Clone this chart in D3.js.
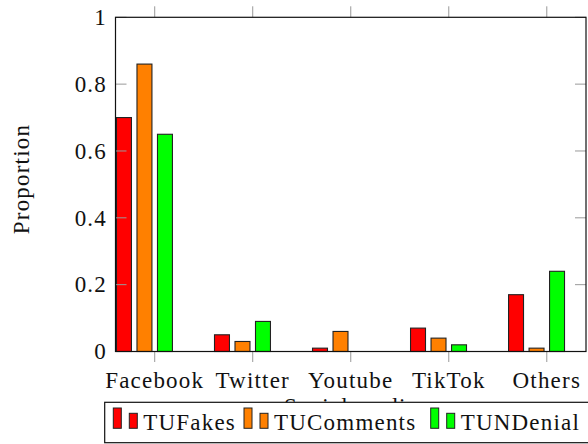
<!DOCTYPE html>
<html><head><meta charset="utf-8">
<script src="https://cdn.jsdelivr.net/npm/d3@7"></script>
</head><body style="margin:0;background:#fff">
<svg id="c" width="588" height="444" style="display:block"></svg>
<script>
const categories = ["Facebook","Twitter","Youtube","TikTok","Others"];
const seriesNames = ["TUFakes","TUComments","TUNDenial","Other"];
const tuFakes = [0.70,0.05,0.01,0.07,0.17];
const tuComments = [0.86,0.03,0.06,0.04,0.01];
const tunDenial = [0.65,0.09,0.00,0.02,0.24];
const extra = [0,0,0,0,0];
const yTicks = [0,0.2,0.4,0.6,0.8,1];
const colors = ["#ff0000","#ff8000","#00ff00","#3050ff"];
const series = [tuFakes,tuComments,tunDenial,extra];

const svg = d3.select("#c");
const FF = "Liberation Serif";
const FS = 23;
const L=115.5,R=586,T=17.3,B=351.5;
const x = d3.scalePoint().domain(categories).range([L,R]).padding(0.4);
const inner = d3.scaleBand().domain(d3.range(series.length)).range([-41,41]).paddingInner(0.27).paddingOuter(0.135);
const y = d3.scaleLinear().domain([0,1]).range([B,T]);

function txt(sel){ return sel.attr("font-family",FF).attr("font-size",FS).attr("letter-spacing",1.2).attr("fill","#111"); }

// bars
series.forEach((vals,si)=>{
  svg.append("g").selectAll("rect").data(vals).join("rect")
    .attr("x",(d,i)=>x(categories[i])+inner(si))
    .attr("width",inner.bandwidth())
    .attr("y",d=>y(d))
    .attr("height",d=>Math.max(0,y(0)-y(d)))
    .attr("fill",colors[si]).attr("stroke","#222").attr("stroke-width",1.1);
});

// ticks
const tg = svg.append("g").attr("stroke","#999").attr("stroke-width",1);
categories.forEach(c=>{
  tg.append("line").attr("x1",x(c)).attr("x2",x(c)).attr("y1",T).attr("y2",T-11);
  tg.append("line").attr("x1",x(c)).attr("x2",x(c)).attr("y1",B).attr("y2",B+10.5);
});
yTicks.forEach(t=>{
  tg.append("line").attr("x1",L).attr("x2",L+11).attr("y1",y(t)).attr("y2",y(t));
  tg.append("line").attr("x1",R).attr("x2",R-11).attr("y1",y(t)).attr("y2",y(t));
});
// frame
svg.append("rect").attr("x",L).attr("y",T).attr("width",R-L).attr("height",B-T)
  .attr("fill","none").attr("stroke","#111").attr("stroke-width",1.2);

// y tick labels
txt(svg.append("g").selectAll("text").data(yTicks).join("text"))
  .attr("x",107).attr("y",d=>y(d)+7.7).attr("text-anchor","end")
  .text(d=>d3.format("")(d));
// x tick labels
txt(svg.append("g").selectAll("text").data(categories).join("text"))
  .attr("x",d=>x(d)).attr("y",388.3).attr("text-anchor","middle")
  .text(d=>d);
// axis labels
txt(svg.append("text")).attr("transform","translate(28.5,179) rotate(-90)")
  .attr("text-anchor","middle").text("Proportion");
txt(svg.append("text")).attr("x",351).attr("y",414).attr("text-anchor","middle")
  .text("Social media");

// legend
const lg = svg.append("g");
lg.append("rect").attr("x",104.7).attr("y",402.3).attr("width",500).attr("height",40.4)
  .attr("fill","#fff").attr("stroke","#111").attr("stroke-width",1.2);
const legX = [113.3,244,430.7];
seriesNames.slice(0,3).forEach((n,i)=>{
  const x0 = legX[i];
  lg.append("rect").attr("x",x0).attr("y",408).attr("width",8).attr("height",20.3)
    .attr("fill",colors[i]).attr("stroke","#222").attr("stroke-width",1);
  lg.append("rect").attr("x",x0+16).attr("y",413.3).attr("width",8).attr("height",15)
    .attr("fill",colors[i]).attr("stroke","#222").attr("stroke-width",1);
  txt(lg.append("text")).attr("x",x0+30).attr("y",429.5).text(n);
});
</script></body></html>
